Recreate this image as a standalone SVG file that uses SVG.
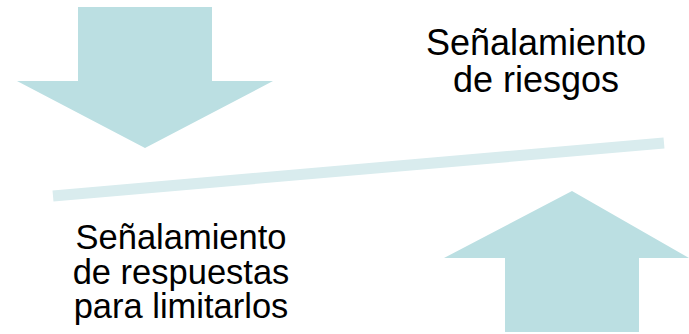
<svg xmlns="http://www.w3.org/2000/svg" width="689" height="334" viewBox="0 0 689 334">
<style>
.arrow{fill:#bbdfe2}
.t{font-family:"Liberation Sans",Arial,sans-serif;fill:#000;text-anchor:middle}
</style>
<rect width="689" height="334" fill="#fff"/>
<g id="arrow-down"><polygon class="arrow" points="78,7 212,7 212,81 273,81 145,148 17,81 78,81"/></g>
<g id="arrow-up"><polygon class="arrow" points="572,191 689,258 639,258 639,332 505,332 505,258 444,258"/></g>
<g id="connectors"><line x1="53" y1="196" x2="664" y2="143" stroke="#d9ecee" stroke-width="11"/></g>
<g id="label-top"><text class="t" font-size="36" x="536" y="55">Señalamiento</text><text class="t" font-size="36" x="536" y="92">de riesgos</text></g>
<g id="label-bottom"><text class="t" font-size="34.5" x="181" y="249">Señalamiento</text><text class="t" font-size="34.5" x="181" y="284">de respuestas</text><text class="t" font-size="34.5" x="181" y="318">para limitarlos</text></g>
</svg>
